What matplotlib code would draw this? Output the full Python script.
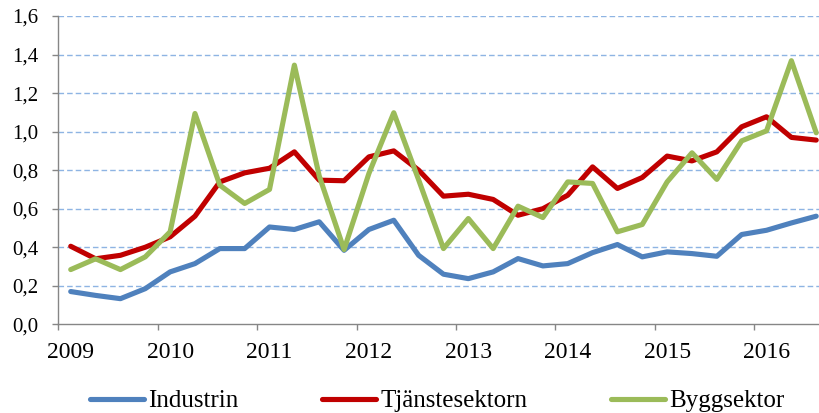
import numpy as np
import matplotlib.pyplot as plt

plt.rcParams['font.family'] = ['Liberation Serif', 'DejaVu Serif']

# kvartal 2009 Q1 - 2016 Q3
years = ["2009", "2010", "2011", "2012", "2013", "2014", "2015", "2016"]
industrin = [0.17, 0.15, 0.133, 0.185, 0.272, 0.315, 0.393, 0.393, 0.505,
             0.492, 0.532, 0.384, 0.492, 0.54, 0.358, 0.26, 0.237, 0.272, 0.341, 0.303,
             0.315, 0.372, 0.414, 0.35, 0.376, 0.367, 0.353, 0.466, 0.488, 0.526, 0.561]
tjanste = [0.405, 0.34, 0.358, 0.40, 0.454, 0.561, 0.739, 0.786, 0.81,
           0.895, 0.748, 0.745, 0.869, 0.90, 0.80, 0.665, 0.675, 0.648, 0.566, 0.60,
           0.67, 0.817, 0.705, 0.762, 0.873, 0.848, 0.895, 1.025, 1.077, 0.97, 0.956]
bygg = [0.284, 0.34, 0.284, 0.35, 0.48, 1.094, 0.722, 0.627, 0.70,
        1.345, 0.77, 0.388, 0.783, 1.098, 0.75, 0.393, 0.549, 0.393, 0.613, 0.554,
        0.739, 0.731, 0.48, 0.518, 0.739, 0.89, 0.752, 0.952, 1.004, 1.368, 0.994]

x = np.arange(len(industrin))

fig = plt.figure(figsize=(8.2, 4.13), dpi=100)
ax = fig.add_axes([58.3 / 820, 88.7 / 413, (820 - 58.3) / 820, 308.3 / 413])

kw = dict(lw=3.7, solid_joinstyle="round", solid_capstyle="round")
ax.plot(x, industrin, c="#4F81BD", label="Industrin", **kw)
ax.plot(x, tjanste, c="#C00000", label="Tjänstesektorn", **kw)
ax.plot(x, bygg, c="#9BBB59", label="Byggsektor", **kw)

ax.set_xlim(-0.5, -0.5 + (820 - 58.3) / 24.85)
ax.set_ylim(0, 1.6)

yt = np.arange(0, 1.61, 0.2)
ax.set_yticks(yt)
ax.set_yticklabels([f"{v:.1f}".replace(".", ",") for v in yt], fontsize=15)
for v in yt[1:]:
    ax.axhline(v, color="#8EB4E3", lw=1, dashes=(4, 2.2), zorder=0)

ax.set_xticks(np.arange(-0.5, len(x), 4))
ax.set_xticklabels([])
ax.set_xticks(np.arange(0, len(x), 4), minor=True)
ax.set_xticklabels(years, minor=True, fontsize=17)
ax.tick_params(axis="x", which="minor", length=0, pad=13)
ax.tick_params(axis="both", which="major", length=4.5, width=1, color="#868686", direction="out")
ax.tick_params(axis="y", pad=10)

for s in ["top", "right"]:
    ax.spines[s].set_visible(False)
for s in ["left", "bottom"]:
    ax.spines[s].set_color("#868686")
    ax.spines[s].set_linewidth(1)

fig.legend(loc="center", bbox_to_anchor=(0.533, 12 / 413), ncol=3, frameon=False,
           fontsize=18, handlelength=2.16, handletextpad=0.16, columnspacing=3.35)

fig.savefig("out.png", dpi=100)
